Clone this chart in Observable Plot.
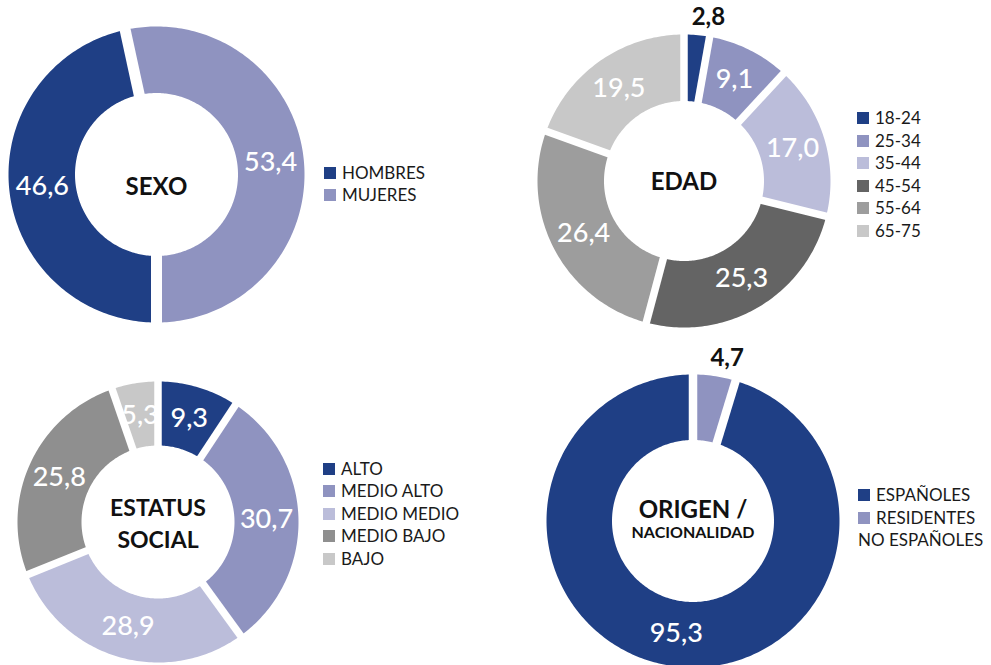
<!DOCTYPE html>
<html><head><meta charset="utf-8">
<script src="https://cdn.jsdelivr.net/npm/d3@7"></script>
<script src="https://cdn.jsdelivr.net/npm/@observablehq/plot@0.6"></script>
<style>
html,body{margin:0;padding:0;background:#fff;width:991px;height:665px;overflow:hidden;font-family:Lato,"Noto Sans",sans-serif;}
.chart{position:absolute;}
.legend{position:absolute;font-size:17px;color:#1a1a1a;line-height:22.5px;font-family:Lato,sans-serif;}
.legend .sw{display:inline-block;width:12px;height:12px;margin-right:6px;}
</style></head><body>
<script>
// ---- data ----
const sexoCategories = ["HOMBRES", "MUJERES"];
const sexoValues = [46.6, 53.4];
const sexoColors = ["#1f3f85", "#8f93c0"];

const edadCategories = ["18-24", "25-34", "35-44", "45-54", "55-64", "65-75"];
const edadValues = [2.8, 9.1, 17.0, 25.3, 26.4, 19.5];
const edadColors = ["#1f3f85", "#8f93c0", "#bbbdda", "#646464", "#9d9d9d", "#c8c8c8"];

const estatusCategories = ["ALTO", "MEDIO ALTO", "MEDIO MEDIO", "MEDIO BAJO", "BAJO"];
const estatusValues = [9.3, 30.7, 28.9, 25.8, 5.3];
const estatusColors = ["#1f3f85", "#8f93c0", "#bbbdda", "#8f8f8f", "#c8c8c8"];

const origenCategories = ["ESPAÑOLES", "RESIDENTES NO ESPAÑOLES"];
const origenValues = [95.3, 4.7];
const origenColors = ["#1f3f85", "#8f93c0"];

const fmt = v => d3.format(".1f")(v).replace(".", ",");

function donut(cfg) {
  const {categories, values, colors, cx, cy, r, inner, start, gap, titles} = cfg;
  const m = 40;
  const size = 2 * (r + m);
  const deg = 30;                       // angular radius of the outer edge
  const lat = f => 90 - deg * f;        // radius fraction -> latitude
  const lon = th => 180 - th;           // clockwise angle from top -> longitude
  const total = d3.sum(values);
  let acc = start;
  const slices = values.map((v, i) => {
    const a0 = acc, a1 = acc + 360 * v / total; acc = a1;
    return {category: categories[i], value: v, a0, a1, mid: (a0 + a1) / 2};
  });
  const fi = inner / r;
  const features = slices.map(s => {
    const n = Math.max(4, Math.ceil(s.a1 - s.a0));
    const outer = d3.range(n + 1).map(k => [lon(s.a0 + (s.a1 - s.a0) * k / n), lat(1)]);
    const inn = d3.range(n + 1).map(k => [lon(s.a1 - (s.a1 - s.a0) * k / n), lat(fi)]);
    const coords = [...outer, ...inn, outer[0]];
    let g = {type: "Polygon", coordinates: [coords]};
    if (d3.geoArea(g) > 2 * Math.PI) g = {type: "Polygon", coordinates: [coords.slice().reverse()]};
    return {type: "Feature", properties: s, geometry: g};
  });
  const insideLabels = slices.filter(s => s.value >= 5);
  const outsideLabels = slices.filter(s => s.value < 5);
  const marks = [
    Plot.geo(features, {fill: d => d.properties.category}),
    Plot.link(slices, {
      x1: d => lon(d.a0), y1: () => lat(fi * 0.8),
      x2: d => lon(d.a0), y2: () => lat(1.06),
      stroke: "white", strokeWidth: gap, strokeLinecap: "butt"
    }),
    Plot.text(insideLabels, {
      x: d => lon(d.mid), y: () => lat((1 + fi) / 2), text: d => fmt(d.value),
      fill: "white", fontSize: 27, fontWeight: 500
    }),
    Plot.text(outsideLabels, {
      x: d => lon(d.mid), y: () => lat(1.12), text: d => fmt(d.value),
      fill: "#111", fontSize: 24, fontWeight: 700, dx: 10
    }),
    ...titles.map(t => Plot.text([t.text], {
      frameAnchor: "middle", text: d => d, dy: t.dy, fontSize: t.size,
      fontWeight: 700, fill: "#111", lineHeight: t.lineHeight || 1.2
    }))
  ];
  const svg = Plot.plot({
    width: size, height: size, margin: 0,
    style: {fontFamily: "Lato, sans-serif", background: "transparent", overflow: "visible"},
    projection: {
      type: () => d3.geoAzimuthalEquidistant().rotate([0, -90]),
      domain: d3.geoCircle().center([0, 90]).radius(deg * (r + m) / r).precision(1)(),
      clip: false
    },
    color: {domain: categories, range: colors},
    marks
  });
  svg.classList.add("chart");
  svg.style.left = (cx - r - m) + "px";
  svg.style.top = (cy - r - m) + "px";
  svg.style.position = "absolute";
  document.body.appendChild(svg);

  const lg = document.createElement("div");
  lg.className = "legend";
  lg.style.left = cfg.legend.left + "px";
  lg.style.top = (cfg.legend.top - 11.25) + "px";
  if (cfg.legend.width) lg.style.width = cfg.legend.width + "px";
  categories.forEach((c, i) => {
    const it = document.createElement("div");
    const sw = document.createElement("span");
    sw.className = "sw";
    sw.style.background = colors[i];
    it.appendChild(sw);
    it.appendChild(document.createTextNode(c));
    lg.appendChild(it);
  });
  document.body.appendChild(lg);
}

donut({
  categories: sexoCategories, values: sexoValues, colors: sexoColors,
  cx: 156, cy: 173.5, r: 148, inner: 81.5, start: 180, gap: 11,
  titles: [{text: "SEXO", size: 24, dy: 11}],
  legend: {left: 324, top: 173}
});
donut({
  categories: edadCategories, values: edadValues, colors: edadColors,
  cx: 683.5, cy: 180, r: 146.5, inner: 80, start: 0, gap: 7.5,
  titles: [{text: "EDAD", size: 24, dy: 0}],
  legend: {left: 857, top: 118.5}
});
donut({
  categories: estatusCategories, values: estatusValues, colors: estatusColors,
  cx: 157, cy: 521.5, r: 140.5, inner: 76.5, start: 0, gap: 7.5,
  titles: [{text: "ESTATUS\nSOCIAL", size: 23, dy: 0, lineHeight: 1.37}],
  legend: {left: 323, top: 469}
});
donut({
  categories: origenCategories, values: origenValues, colors: origenColors,
  cx: 692.5, cy: 520.5, r: 146.5, inner: 81, start: 360 * origenValues[1] / d3.sum(origenValues), gap: 8.5,
  titles: [{text: "ORIGEN /", size: 24, dy: -12}, {text: "NACIONALIDAD", size: 16, dy: 11}],
  legend: {left: 858, top: 495.5, width: 135}
});
</script>
</body></html>
